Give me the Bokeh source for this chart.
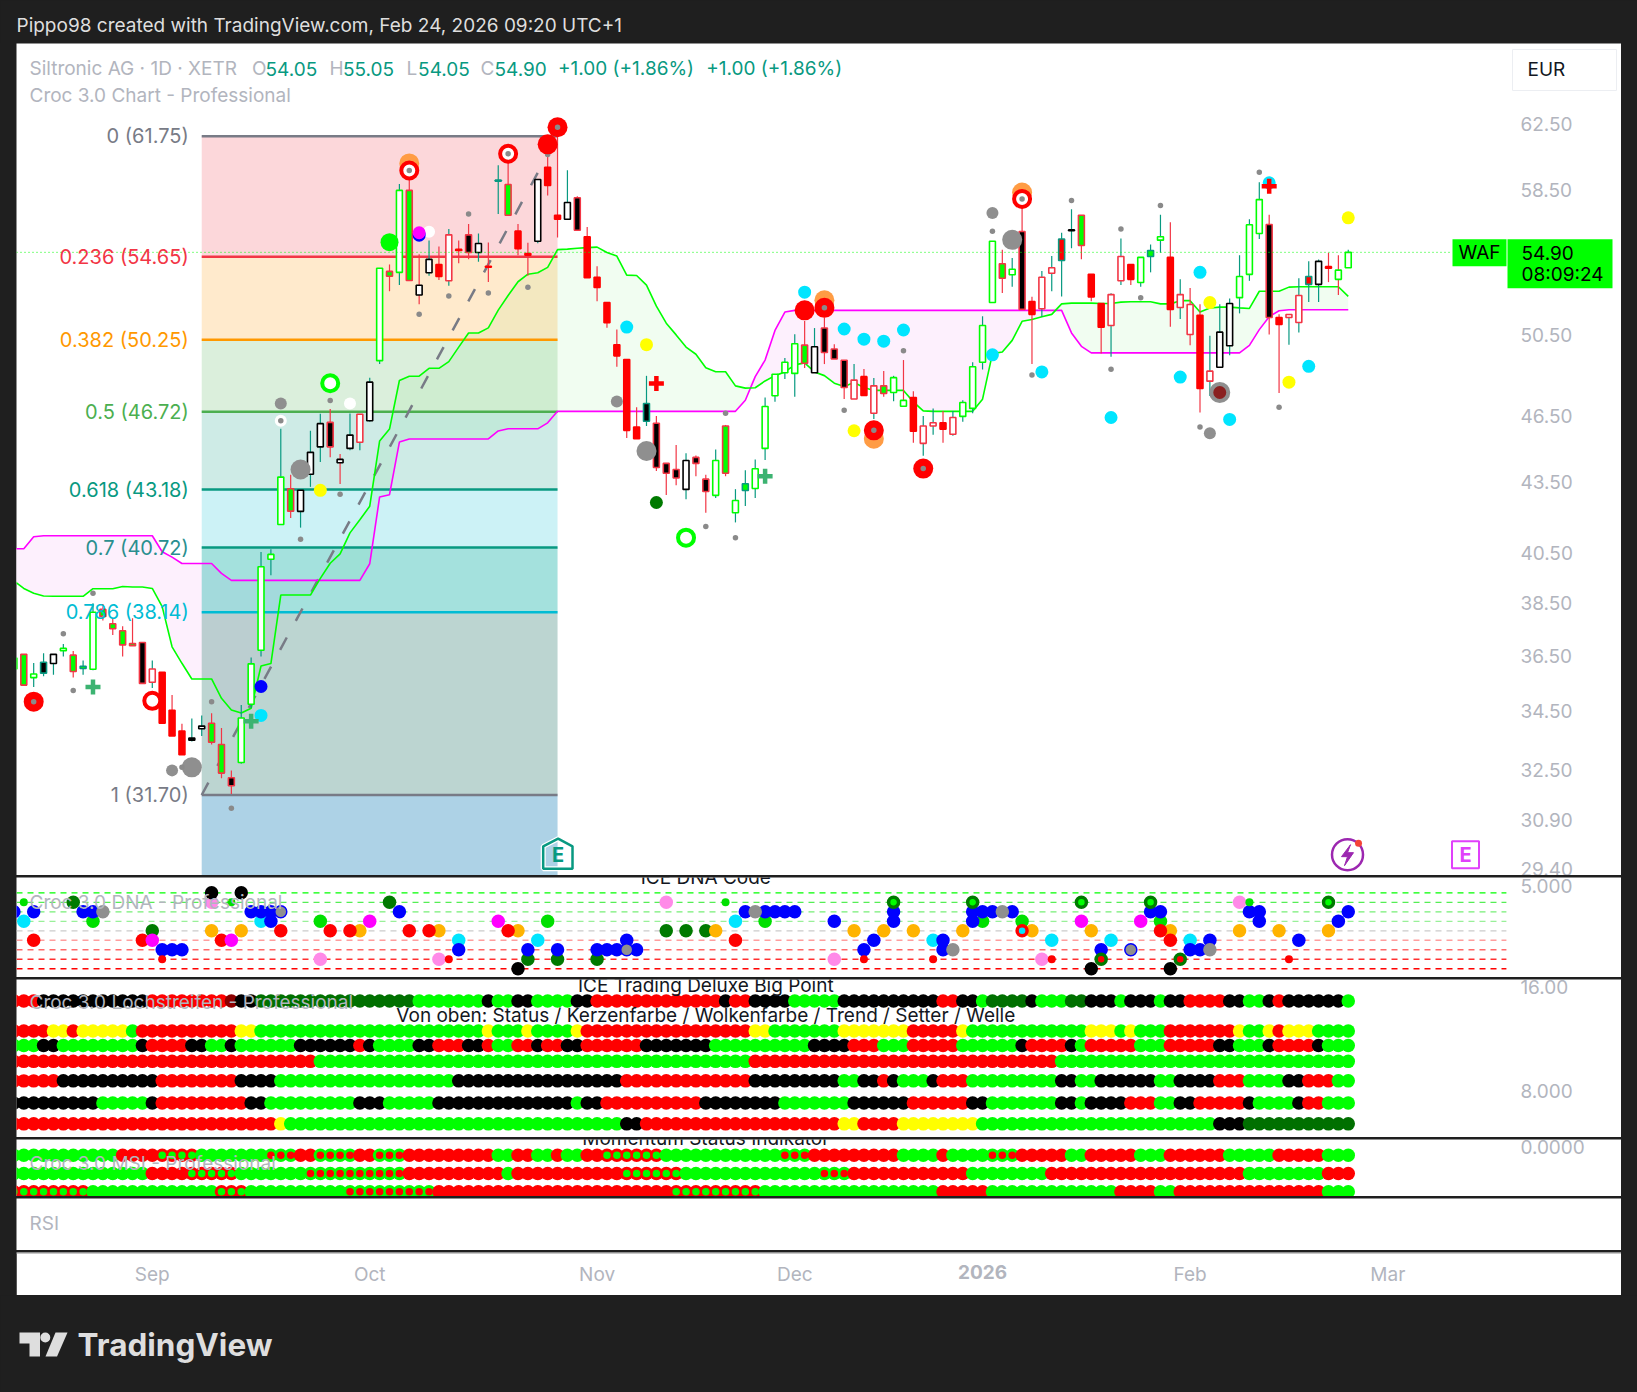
from bokeh.plotting import figure
from bokeh.layouts import column
from bokeh.models import Range1d, FixedTicker, PrintfTickFormatter, Label, LogAxis, LinearAxis
from bokeh.core.properties import value
from bokeh.embed import file_html
from bokeh.resources import INLINE
import numpy as np

# ---------- candle data (bar index starts at -1) ----------
bar_top = [36.41,36.55,35.83,36.26,36.55,36.77,36.52,36.11,38.14,38.25,
 37.70,37.43,36.95,36.99,36.01,35.89,34.54,33.82,33.58,33.99,
 34.09,33.36,32.26,34.27,36.20,39.94,40.44,43.73,43.22,43.15,
 44.84,46.16,46.22,44.52,45.63,46.60,48.14,54.02,53.85,58.45,
 58.45,53.10,54.51,54.23,55.88,55.07,55.88,55.39,54.13,59.06,
 58.80,56.09,54.83,59.10,59.83,57.00,57.74,58.02,55.77,53.53,
 52.18,50.00,49.26,46.00,47.11,46.18,44.34,44.07,44.47,44.61,
 43.64,44.47,46.05,42.71,43.44,44.10,46.97,48.53,49.12,50.05,
 49.98,49.90,50.85,49.78,49.22,48.24,48.41,47.96,47.96,48.36,
 47.26,47.40,46.05,46.20,46.20,46.45,47.16,48.90,50.98,55.52,
 54.27,53.97,56.07,52.23,53.53,54.05,55.65,56.16,57.00,53.69,
 52.13,52.60,54.67,54.23,54.62,55.00,55.77,54.62,52.60,52.08,
 51.51,48.68,50.64,52.13,53.57,56.45,57.91,56.47,51.40,51.55,
 52.55,53.57,54.40,54.11,53.92,54.90]
bar_bottom = [36.01,35.43,35.70,35.86,36.21,36.68,35.92,36.03,36.00,37.98,
 37.51,36.90,36.87,35.49,35.53,34.09,33.65,33.02,33.51,33.90,
 33.44,32.41,32.00,32.76,34.75,36.70,40.24,41.68,42.25,42.24,
 43.86,45.09,45.09,44.37,45.02,45.30,46.30,49.20,53.59,53.80,
 53.36,52.58,53.78,53.57,53.34,55.01,54.89,54.89,54.08,59.00,
 57.00,55.10,54.74,55.52,58.74,56.77,56.77,56.14,53.51,52.98,
 51.12,49.44,45.85,45.46,46.27,44.16,43.90,43.69,43.19,44.34,
 43.10,42.93,43.90,42.18,43.14,43.23,45.02,47.48,48.60,48.57,
 49.07,48.60,49.61,49.28,47.88,47.33,47.50,46.65,47.59,47.64,
 46.98,45.81,45.25,46.05,45.90,45.67,46.50,46.88,49.12,52.18,
 53.48,53.67,51.82,51.56,51.85,53.75,54.45,56.12,55.28,52.47,
 50.89,50.98,53.34,53.42,53.25,54.67,55.58,51.82,51.92,50.52,
 47.83,48.19,48.87,49.95,52.44,53.69,55.96,51.40,51.03,51.40,
 51.14,53.15,53.15,54.02,53.42,54.05]
highs = [36.41,36.55,36.23,36.59,36.55,36.93,36.67,36.32,38.49,38.46,
 37.91,37.60,37.91,36.99,36.32,35.89,35.08,34.07,34.25,34.36,
 34.43,33.92,32.50,34.72,36.43,40.54,40.65,45.92,43.83,43.15,
 45.83,46.62,46.85,44.76,46.64,46.60,48.36,54.02,54.23,58.83,
 59.66,54.79,55.56,55.23,56.21,55.56,56.50,55.96,55.45,59.96,
 60.26,56.50,55.43,59.10,60.66,62.31,59.66,58.10,56.33,54.13,
 52.18,50.77,49.26,46.93,48.45,46.52,44.34,45.17,44.80,44.70,
 43.83,44.97,46.10,43.20,44.03,44.52,47.40,48.53,49.33,50.53,
 51.21,50.85,51.40,50.02,49.22,49.03,48.79,48.34,48.69,48.45,
 49.23,47.70,46.52,46.88,46.75,46.75,47.27,49.12,51.46,55.52,
 55.05,54.58,57.95,52.49,53.87,54.69,56.00,57.35,57.00,53.69,
 52.13,52.67,55.67,54.23,54.62,55.34,57.03,56.60,53.43,52.96,
 52.09,50.46,52.09,52.39,54.74,56.77,58.94,57.03,51.56,51.55,
 53.48,54.40,54.50,54.87,54.74,55.05]
lows = [36.01,35.43,35.36,35.75,35.80,36.47,35.70,35.80,35.97,37.82,
 37.27,36.47,36.87,35.49,35.33,34.09,33.65,33.02,33.46,33.65,
 33.36,32.24,31.73,32.72,34.62,36.47,39.60,41.67,41.96,41.55,
 43.30,44.40,44.62,43.43,44.94,44.94,46.25,49.03,52.78,53.11,
 53.36,52.09,53.62,53.39,53.08,54.29,54.52,54.38,53.27,57.07,
 57.00,54.74,53.62,55.41,58.15,55.73,56.77,56.14,53.51,52.25,
 50.87,48.90,45.50,45.46,46.05,44.00,42.94,43.37,42.76,43.77,
 42.18,42.82,43.77,41.77,42.47,42.82,44.49,47.19,48.30,47.43,
 48.84,48.60,49.03,49.28,47.33,47.33,47.50,46.38,47.43,47.22,
 46.98,45.28,44.68,45.65,45.28,45.60,46.25,46.65,48.76,52.18,
 52.68,53.02,51.82,49.03,51.44,52.78,52.50,55.13,54.52,52.25,
 49.56,49.39,53.11,53.11,53.02,53.80,54.87,50.92,51.32,49.97,
 46.68,47.47,48.87,49.47,51.61,53.34,55.65,50.52,47.62,50.00,
 50.62,52.21,52.21,53.27,52.58,54.05]
# fill / edge / wick colour letters per bar
fill_codes = [
 "g","g","w","k","w","w","g","g","w","g","g","g","g","k","w","r","r","r","k","w",
 "g","g","k","w","w","w","w","w","g","w","w","w","k","w","w","w","w","w","g","w",
 "g","w","w","r","w","r","k","w","r","t","g","r","r","w","r","r","w","k","r","r",
 "r","r","r","r","k","k","k","k","w","k","k","w","g","w","g","w","w","w","w","w",
 "g","w","k","k","k","w","r","w","g","w","w","r","w","w","r","w","w","w","w","w",
 "g","w","k","r","w","w","r","k","g","r","r","w","w","r","w","g","w","r","w","w",
 "r","w","w","w","w","w","w","k","r","w","w","r","w","r","w","w"]
edge_codes = [
 "g","r","g","t","k","g","r","t","g","r","r","r","r","r","r","r","r","r","k","k",
 "r","r","r","g","g","g","g","g","r","k","k","k","r","k","k","r","k","g","r","g",
 "r","k","k","r","r","r","r","k","r","t","r","r","r","k","r","r","k","r","r","r",
 "r","r","r","r","t","r","r","r","k","r","r","g","r","g","t","g","g","g","g","g",
 "r","k","r","r","r","r","r","r","r","g","g","r","r","r","r","r","g","g","g","g",
 "r","g","r","r","r","r","t","k","r","r","r","r","r","r","g","t","g","r","r","r",
 "r","r","k","k","g","g","g","r","r","r","r","t","k","r","g","g"]
wick_codes = [
 "t","r","t","t","t","t","r","t","t","r","r","r","r","r","t","r","r","r","t","t",
 "r","r","r","t","t","t","t","t","r","t","t","t","r","r","t","t","t","t","r","t",
 "r","r","t","r","t","r","r","t","r","t","r","r","r","t","r","r","t","r","r","r",
 "r","r","r","r","t","r","r","r","t","r","r","t","r","t","t","t","t","t","t","t",
 "r","t","r","r","r","t","r","t","r","t","r","r","t","t","r","t","t","t","t","t",
 "r","t","r","r","t","t","t","t","r","r","r","t","t","r","t","t","t","r","t","r",
 "r","t","t","t","t","t","t","r","r","t","t","t","t","r","r","t"]

# ---------- cloud lines ----------
cloud_green = [39.37,39.07,38.88,38.77,38.76,38.76,38.76,38.76,39.06,39.06,39.06,39.15,39.13,39.13,39.07,38.36,36.83,36.22,35.65,35.65,
 35.65,34.96,34.55,34.44,34.61,36.12,36.21,38.81,38.81,38.81,38.81,39.47,40.08,40.46,41.33,41.88,42.46,45.36,45.91,48.22,
 48.43,48.43,48.82,48.82,49.15,49.88,50.60,50.60,50.86,51.78,52.55,53.29,53.70,53.78,54.07,55.05,55.08,55.13,55.16,55.19,
 54.89,54.69,53.65,53.63,53.11,51.99,51.10,50.50,49.88,49.52,48.85,48.65,48.65,47.96,47.85,47.87,48.20,48.46,48.64,48.99,
 49.09,48.64,48.46,48.09,47.93,48.12,47.88,47.74,47.74,47.74,47.74,47.19,46.76,46.74,46.74,46.74,46.74,46.74,47.32,49.55,
 49.63,50.22,51.20,51.29,51.44,51.56,52.11,52.15,52.15,52.15,52.13,52.13,52.20,52.22,52.22,52.22,52.11,52.11,52.28,52.28,
 51.68,51.89,51.94,51.94,51.90,51.87,52.78,52.78,52.78,53.00,53.02,53.02,53.02,53.02,53.02,52.51]
cloud_magenta = [40.67,40.67,41.17,41.21,41.21,41.21,41.21,41.21,41.21,41.21,41.21,41.21,41.21,41.21,41.21,40.55,40.33,40.07,40.07,40.07,
 40.07,39.67,39.39,39.39,39.39,39.39,39.39,39.39,39.39,39.39,39.39,39.39,39.39,39.39,39.39,39.39,40.06,42.86,42.96,45.31,
 45.45,45.45,45.45,45.45,45.45,45.45,45.45,45.45,45.45,45.82,45.92,45.92,45.92,45.92,46.20,46.74,46.74,46.74,46.74,46.74,
 46.74,46.74,46.74,46.74,46.74,46.74,46.74,46.74,46.74,46.74,46.74,46.74,46.74,46.74,47.27,48.41,49.23,50.73,51.68,51.77,
 51.77,51.77,51.77,51.77,51.77,51.77,51.77,51.77,51.77,51.77,51.77,51.77,51.77,51.77,51.77,51.77,51.77,51.77,51.77,51.77,
 51.77,51.77,51.77,51.77,51.77,51.77,51.77,50.60,49.92,49.59,49.59,49.59,49.59,49.59,49.59,49.59,49.59,49.59,49.59,49.59,
 49.59,49.59,49.59,49.59,49.59,49.97,50.77,51.44,51.75,51.80,51.80,51.80,51.80,51.80,51.80,51.80]

# ---------- Fibonacci ----------
fib_prices = [61.75, 54.65, 50.25, 46.72, 43.18, 40.72, 38.14, 31.70]
fib_labels = ["0 (61.75)", "0.236 (54.65)", "0.382 (50.25)", "0.5 (46.72)", "0.618 (43.18)", "0.7 (40.72)", "0.786 (38.14)", "1 (31.70)"]
fib_start_bar, fib_end_bar = 18, 54

# ---------- chart markers: (bar, price) ----------
gray_dots = [(4,37.32),(5,35.24),(7,38.88),(16,32.6),(19,34.84),(21,31.28),(32,42.98),(28,41.06),(31,47.26),(40,51.56),(43,52.53),(45,57.07),(47,52.68),(51,53.0),(53,60.62),(83,46.79),(89,49.7),(69,41.6),(71,46.65),(72,41.13),(98,56.09),(102,48.49),(106,57.85),(111,56.21),(115,57.57),(113,52.44),(110,48.77),(119,46.0),(125,59.54),(127,46.93)]
gray_medium = [(15,32.5),(26,47.11),(60,47.21),(98,57.13),(120,45.72)]
gray_large = [(17,32.6),(28,44.07),(63,44.9),(100,55.6)]
white_marks = [(26,46.3),(33,47.11),(41,56.06)]
cyan_marks = [(24,34.36),(61,50.9),(79,52.73),(83,50.8),(85,50.28),(87,50.18),(89,50.75),(98,49.49),(103,48.64),(110,46.45),(117,48.39),(119,53.8),(122,46.36),(126,58.9),(130,48.92)]
yellow_marks = [(30,43.15),(63,50.0),(84,45.83),(120,52.18),(128,48.14),(134,56.85)]
blue_marks = [(24,35.38),(40,55.86)]
magenta_marks = [(40,56.0)]
darkgreen_marks = [(64,42.62)]
green_big = [(37,55.47)]
orange_big = [(39,60.07),(81,52.3),(86,45.46),(101,58.32)]
red_big = [(1,34.84),(53,61.24),(54,62.31),(79,51.77),(81,51.9),(86,45.85),(91,44.11)]
red_rings = [(13,34.87),(39,59.64),(49,60.66),(101,57.95)]
green_rings = [(31,48.09),(67,41.13)]
center_dots = [(1,34.84),(26,46.3),(39,59.64),(49,60.66),(54,62.31),(81,51.9),(86,45.85),(91,44.11),(101,57.95)]
green_plus = [(7,35.36),(23,34.16),(75,43.77)]
red_plus = [(64,48.07),(126,58.7)]
brown_marks = [(121,47.64)]

price_ticks = [62.5,58.5,50.5,46.5,43.5,40.5,38.5,36.5,34.5,32.5,30.9,29.4]

# ---------- DNA pane: (bar, level) ----------
dna_levels = [4,3,2,1,0,-1,-2,-3,-4]
dna_blue = [(-1,2),(1,2),(6,2),(7,2),(14,-2),(15,-2),(16,-2),(23,2),(24,2),(25,2),(25,1),(38,2),(44,-2),(51,-2),(54,-2),(58,-2),(59,-2),(60,-2),(61,-1),(62,-2),(73,2),(75,2),(76,2),(77,2),(78,2),(82,1),(85,-2),(86,-1),(88,2),(88,1),(93,-1),(93,-2),(96,2),(96,1),(97,2),(98,2),(100,2),(109,-2),(114,2),(115,2),(118,-2),(119,-2),(120,-1),(124,2),(125,2),(125,1),(129,-1),(133,1),(134,2)]
dna_cyan = [(0,1),(24,1),(44,-1),(52,-1),(72,1),(92,-1),(104,-1),(110,-1),(118,-1)]
dna_red = [(1,-1),(12,-1),(20,-1),(26,0),(31,0),(33,0),(39,0),(41,0),(49,0),(72,-1),(115,0),(116,-1)]
dna_orange = [(19,0),(22,0),(34,0),(42,0),(50,0),(70,0),(84,0),(87,0),(90,0),(95,0),(102,0),(108,0),(116,0),(123,0),(127,0),(132,0)]
dna_magenta = [(13,-1),(21,-1),(35,1),(48,1),(107,1),(113,1)]
dna_pink = [(19,3),(30,-3),(42,-3),(65,3),(82,-3),(103,-3),(123,3)]
dna_darkgreen = [(5,3),(13,0),(37,3),(51,-3),(54,-3),(58,-3),(65,0),(67,0),(69,0)]
dna_green = [(7,1),(30,1),(53,1),(75,1),(97,1),(101,1),(115,1)]
dna_black = [(19,4),(22,4),(50,-4),(108,-4),(116,-4)]
dna_gray = [(8,2),(74,2),(94,-2),(99,2),(120,-2)]
dna_gray_blue = [(26,2),(61,-2),(112,-2)]
dna_small_green = [(0,3),(21,3),(71,3),(124,3)]
dna_small_red = [(14,-3),(43,-3),(85,-3),(92,-3),(104,-3),(128,-3)]
dna_rings = [(88,3),(96,3),(107,3),(114,3),(132,3)]
dna_rings_red = [(109,-3),(117,-3)]
dna_red_ring_cyan = [(101,0)]

# ---------- status rows: colour runs per bar (letter + bar count) ----------
trade_levels = [14.0, 11.6, 10.6, 9.6, 8.5, 7.4, 6.5]
trade_row0 = "r3 k11 r8 D1 k2 d16 g7 k1 g2 k2 g4 k2 r13 k1 r2 k4 g5 k10 r2 k2 g1 d4 k1 g3 d2 k3 g1 k3 g1 k2 r4 k2 g2 k1 r1 k6 g1"
trade_row1 = "r4 y2 r1 y5 g1 r10 y2 g23 y1 g3 y1 g4 y1 r17 y2 g7 y7 r5 y1 g12 y3 g1 y1 g3 r7 y1 g2 y1 r1 y3 g4"
trade_row2 = "g3 k2 g8 k1 r4 k2 g2 k1 g6 k6 r1 k1 g4 k2 r3 k2 r1 g2 r2 k1 r2 k2 r6 k7 g10 k4 r3 g3 r5 g6 k1 r4 k1 g1 r5 g3 r5 k2 g3 k1 r4 k1 g3"
trade_row3 = "r31 g44 r31 g30"
trade_row4 = "r5 k10 r8 k4 g18 k17 r13 k9 g2 k2 r1 k1 g3 k1 r3 g9 k2 g2 k6 g2 k4 r3 g4 k2 r3 g2"
trade_row5 = "k9 g5 k1 r9 k2 g9 k3 g5 k14 g1 k2 r10 k8 g7 k6 r6 k2 g7 k2 g1 k4 r3 g2 k2 r5 k1 g4 k1 r2 g3"
trade_row6 = "r27 y1 g34 k2 r20 y2 r4 y8 g24 k3 d11"
msi_levels = [-1, -3, -5]
msi_row0 = "g11 r4 a4 g7 b3 r2 b4 r2 b3 r9 g2 r2 g2 r1 g2 r2 a6 g12 b3 r9 g4 r1 g4 b3 r5 g2 r5 g3 r6 g5 r5 g3"
msi_row1 = "g14 r4 a5 g7 b10 r10 g1 r11 a6 g14 b3 r12 g8 r20 g8 r3"
msi_row2 = "a8 g13 a3 g10 b9 r24 a9 g18 r5 g13 r4 g2 r15 g3"

month_ticks = [13, 35, 58, 78, 118, 138]
month_labels = ["Sep", "Oct", "Nov", "Dec", "Feb", "Mar"]
year_tick = 97
year_label = "2026"

# ---------- styling ----------
FONT = "Inter"
DARK = "#1f1f1f"
AXIS_TXT = "#b2b5be"
TEAL = "#089981"
RED = "#ff0000"
LIME = "#00ff00"
WICK_RED = "#f23645"
bars = np.arange(len(bar_top)) - 1
XL, XR = -0.739, 150.0
FULL_W = 1605          # white panes run over the price scale
XEND = XL + FULL_W / 9.884
FS = "19px"

def px_x(px):
    return (px - 23.3) / 9.884
def px_p(py):
    return 61.75 * np.exp(-(py - 135.7) / 989.2)
def unzip(pts):
    return [a for a, _ in pts], [b for _, b in pts]
def expand(spec):
    out = []
    for tok in spec.split():
        out += [tok[0]] * int(tok[1:])
    return out

def style_axis(ax):
    ax.axis_line_color = None
    ax.major_tick_line_color = None
    ax.minor_tick_line_color = None
    ax.major_tick_out = 0
    ax.major_tick_in = 0
    ax.minor_tick_out = 0
    ax.minor_tick_in = 0
    ax.major_label_text_color = AXIS_TXT
    ax.major_label_text_font = FONT
    ax.major_label_text_font_size = FS
    ax.major_label_standoff = 14

def pane(h, ymin, ymax, ytype="linear", top=2):
    p = figure(width=None, height=None, frame_width=FULL_W, frame_height=h, x_range=Range1d(XL, XEND),
               y_range=Range1d(ymin, ymax), y_axis_type=ytype, x_axis_location=None, y_axis_location=None,
               toolbar_location=None, output_backend="svg", min_border=0, border_fill_color=DARK,
               background_fill_color="white", outline_line_color=None, margin=(top, 0, 0, 16))
    p.grid.visible = False
    return p

def price_scale(p, ticks, ytype="linear", **kw):
    cls = LogAxis if ytype == "log" else LinearAxis
    ax = cls(fixed_location=XR, ticker=FixedTicker(ticks=ticks), **kw)
    style_axis(ax)
    p.add_layout(ax, "right")
    return ax

def put(p, text, x, y, pane_top, pane_h, color=AXIS_TXT, size=FS, style="normal", align="left", left=16, alpha=1.0):
    p.add_layout(Label(x=x - left, y=pane_h - (y - pane_top), x_units="screen", y_units="screen", text=text,
                       text_color=color, text_font=FONT, text_font_size=size, text_font_style=style,
                       text_align=align, text_baseline="middle", text_alpha=alpha))

def dots(p, pts, size, color, line=None, lw=1, marker="circle"):
    if not pts:
        return
    xs, ys = unzip(pts)
    p.scatter(xs, ys, marker=marker, size=size, fill_color=color, line_color=line, line_width=lw)

# ---------- header ----------
hdr = figure(width=1637, height=43, x_range=Range1d(0, 1637), y_range=Range1d(43, 0), x_axis_location=None,
             y_axis_location=None, toolbar_location=None, output_backend="svg", min_border=0,
             border_fill_color=DARK, background_fill_color=DARK, outline_line_color=None, margin=(0, 0, 0, 0))
hdr.grid.visible = False
put(hdr, "Pippo98 created with TradingView.com, Feb 24, 2026 09:20 UTC+1", 16, 25, 0, 43, color="#dedede", left=0)

# ---------- main pane ----------
MAIN_H = 832
main = pane(MAIN_H, 29.22, 67.82, ytype="log", top=0)
price_scale(main, price_ticks, ytype="log", formatter=PrintfTickFormatter(format="%.2f"))

g = np.array(cloud_green); m = np.array(cloud_magenta)
main.varea(bars, y1=m, y2=np.maximum(g, m), fill_color="#f1fdf1")
main.varea(bars, y1=g, y2=np.maximum(g, m), fill_color="#fdf0fd")

zone_colors = ["#f23645", "#ff9800", "#4caf50", "#089981", "#00bcd4", "#49c3bb", "#79aba3", "#5ba5cd"]
zone_alpha = [.2, .2, .2, .2, .2, .5, .5, .5]
zone_tops = fib_prices
zone_bottoms = fib_prices[1:] + [29.22]
main.quad(left=fib_start_bar, right=fib_end_bar, top=zone_tops, bottom=zone_bottoms, fill_color=zone_colors,
          fill_alpha=zone_alpha, line_color=None)
fib_colors = ["#787b86", "#f23645", "#ff9800", "#4caf50", "#089981", "#089981", "#00bcd4", "#787b86"]
main.segment(x0=[fib_start_bar] * 8, x1=[fib_end_bar] * 8, y0=fib_prices, y1=fib_prices, line_color=fib_colors, line_width=2.5)
main.line([fib_start_bar, fib_end_bar], [fib_prices[-1], fib_prices[0]], line_color="#787b86", line_width=2.5, line_dash="14 19")

main.line(bars, m, line_color="#ff00ff", line_width=1.6)
main.line(bars, g, line_color=LIME, line_width=1.6)

palette = {"g": LIME, "w": "#ffffff", "k": "#000000", "r": RED, "t": TEAL}
edge_colors = [WICK_RED if (e == "r" and f != "r") else palette[e] for f, e in zip(fill_codes, edge_codes)]
main.segment(bars, lows, bars, highs, line_color=[(WICK_RED if c == "r" else TEAL) for c in wick_codes], line_width=1.2)
main.vbar(bars, width=0.6, top=bar_top, bottom=bar_bottom, fill_color=[palette[c] for c in fill_codes],
          line_color=edge_colors, line_width=1.6)

main.segment([XL], [54.90], [px_x(1452)], [54.90], line_color=LIME, line_dash="1 3", line_width=1)

dots(main, gray_medium, 12, "#8f8f8f")
dots(main, gray_large, 20, "#8f8f8f")
dots(main, gray_dots, 5.5, "#8a8a8a")
dots(main, orange_big, 20, "#ff9c44")
dots(main, white_marks, 12, "#ffffff")
dots(main, cyan_marks, 13, "#00e5ff")
dots(main, yellow_marks, 13, "#ffff00")
dots(main, blue_marks, 13, "#0000ff")
dots(main, magenta_marks, 13, "#ff00ff")
dots(main, darkgreen_marks, 13, "#007a00")
dots(main, green_big, 18, LIME)
dots(main, red_big, 20, RED)
dots(main, red_rings, 16, "#ffffff", line=RED, lw=4)
dots(main, green_rings, 16, "#ffffff", line=LIME, lw=4)
dots(main, center_dots, 5.5, "#8a8a8a")
dots(main, brown_marks, 17, "#8a2020", line="#8f8f8f", lw=4)
dots(main, green_plus, 15, "#3cb371", line="#3cb371", lw=4.5, marker="cross")
dots(main, red_plus, 15, RED, line=RED, lw=4.5, marker="cross")

main.text(x=[fib_start_bar] * 8, y=fib_prices, text=fib_labels, text_align="right", text_baseline="middle", x_offset=-13,
          text_color=["#787b86", "#f23645", "#ff9800", "#4caf50", "#089981", "#2a8f8f", "#00bcd4", "#787b86"],
          text_font=value(FONT), text_font_size="20px")

# event icons
hx = [542.7, 557.6, 572, 572, 542.7]; hy = [846.7, 839, 846.7, 869, 869]
main.patch([px_x(a) for a in hx], [px_p(b) for b in hy], fill_color=None, line_color="#ffffff", line_width=5)
main.patch([px_x(a) for a in hx], [px_p(b) for b in hy], fill_color=None, line_color=TEAL, line_width=2.5)
main.text([px_x(557.6)], [px_p(855.5)], text=["E"], text_align="center", text_baseline="middle", text_color=[TEAL],
          text_font=value(FONT), text_font_size="20px", text_font_style="bold")
main.scatter([px_x(1347)], [px_p(855)], marker="circle", size=31, fill_color="#ffffff", line_color="#9c27b0", line_width=2.5)
bx = [1350, 1341, 1347, 1344, 1353, 1347]; by = [845, 857, 857, 866, 853, 853]
main.patch([px_x(a) for a in bx], [px_p(b) for b in by], fill_color="#9c27b0", line_color="#9c27b0")
main.scatter([px_x(1358)], [px_p(843.5)], marker="circle", size=7, fill_color="#f44336", line_color=None)
main.scatter([px_x(1465)], [px_p(855)], marker="square", size=27, fill_color="#ffffff", line_color="#e040fb", line_width=2)
main.text([px_x(1465)], [px_p(855.5)], text=["E"], text_align="center", text_baseline="middle", text_color=["#e040fb"],
          text_font=value(FONT), text_font_size="20px", text_font_style="bold")

# legend
MT = 43
put(main, "Siltronic AG · 1D · XETR", 29, 68, MT, MAIN_H)
for txt, xp, col in [("O", 251.6, AXIS_TXT), ("54.05", 265, TEAL), ("H", 329, AXIS_TXT), ("55.05", 342.5, TEAL),
                     ("L", 406, AXIS_TXT), ("54.05", 417.6, TEAL), ("C", 480, AXIS_TXT), ("54.90", 494, TEAL),
                     ("+1.00 (+1.86%)", 557.5, TEAL), ("+1.00 (+1.86%)", 705.7, TEAL)]:
    put(main, txt, xp, 68, MT, MAIN_H, color=col)
put(main, "Croc 3.0 Chart - Professional", 29, 95, MT, MAIN_H)

# price tags and currency box
def box(x0, x1, y0, y1, fill, line=None):
    main.quad(left=[px_x(x0)], right=[px_x(x1)], top=[px_p(y0)], bottom=[px_p(y1)], fill_color=fill, line_color=line)
box(1452, 1506, 239, 266, LIME)
box(1507, 1612, 239, 288, LIME)
box(1512, 1616, 49, 90, "#ffffff", "#eceef2")
put(main, "EUR", 1527, 69, MT, MAIN_H, color="#131722")
put(main, "WAF", 1458, 252, MT, MAIN_H, color="#000000")
put(main, "54.90", 1521, 252, MT, MAIN_H, color="#000000")
put(main, "08:09:24", 1521, 274, MT, MAIN_H, color="#000000")

# ---------- DNA pane ----------
DNA_T, DNA_H = 877, 100
dna = pane(DNA_H, -4.92, 5.61)
price_scale(dna, [5], major_label_overrides={5: "5.000"})
lvl_colors = [LIME, "#55ee55", "#77ee77", "#99f099", "#cccccc", "#ff9e9e", "#ff6a6a", "#ff3030", RED]
dna.segment([XL] * 9, dna_levels, [XR] * 9, dna_levels, line_color=lvl_colors, line_width=1.3, line_dash="6 5")
D = 13.5
dots(dna, dna_darkgreen, D, "#007a00")
dots(dna, dna_green, D, "#00e000")
dots(dna, dna_orange, D, "#ffb300")
dots(dna, dna_red, D, RED)
dots(dna, dna_magenta, D, "#ff00ff")
dots(dna, dna_pink, D, "#ff8ae8")
dots(dna, dna_cyan, D, "#00e5ff")
dots(dna, dna_black, D, "#000000")
dots(dna, dna_blue, D, "#0000ff")
dots(dna, dna_gray, D, "#8f8f8f")
dots(dna, dna_gray_blue, 12, "#8f8f8f", line="#0000ff", lw=1.5)
dots(dna, dna_small_green, 8, "#00e000")
dots(dna, dna_small_red, 8, RED)
dots(dna, dna_rings, 10, LIME, line="#007a00", lw=3.5)
dots(dna, dna_rings_red, 10, RED, line="#007a00", lw=3.5)
dots(dna, dna_red_ring_cyan, 10, "#00e5ff", line=RED, lw=3.5)
dna.text([69], [5.6], text=["ICE DNA Code"], text_align="center", text_baseline="middle", text_color=["#131722"],
         text_font=value(FONT), text_font_size=FS)
put(dna, "Croc 3.0 DNA - Professional", 29, 902, DNA_T, DNA_H)

# ---------- trading pane ----------
TR_T, TR_H = 979, 158
trade = pane(TR_H, 5.97, 16, ytype="log")
price_scale(trade, [16, 8], ytype="log", major_label_overrides={16: "16.00", 8: "8.000"})
row_colors = {"r": RED, "g": LIME, "k": "#000000", "y": "#ffff00", "d": "#007000", "D": "#8b0000"}
for lvl, spec in zip(trade_levels, [trade_row0, trade_row1, trade_row2, trade_row3, trade_row4, trade_row5, trade_row6]):
    codes = expand(spec)
    trade.scatter(bars[:len(codes)], [lvl] * len(codes), marker="circle", size=13.5,
                  fill_color=[row_colors[c] for c in codes], line_color=None)
trade.text([69, 69], [15.4, 12.8], text=["ICE Trading Deluxe Big Point", "Von oben: Status / Kerzenfarbe / Wolkenfarbe / Trend / Setter / Welle"],
           text_align="center", text_baseline="middle", text_color=["#131722", "#131722"], text_font=value(FONT), text_font_size=FS)
put(trade, "Croc 3.0 Lochstreifen - Professional", 29, 1002, TR_T, TR_H)

# ---------- MSI pane ----------
MS_T, MS_H = 1139, 57
msi = pane(MS_H, -5.53, 0.74)
price_scale(msi, [0], formatter=PrintfTickFormatter(format="%.4f"))
for lvl, spec in zip(msi_levels, [msi_row0, msi_row1, msi_row2]):
    codes = expand(spec)
    outer = [RED if c in "ra" else LIME for c in codes]
    msi.scatter(bars[:len(codes)], [lvl] * len(codes), marker="circle", size=13.5, fill_color=outer, line_color=None)
    inner_x = [b for b, c in zip(bars, codes) if c in "ab"]
    inner_c = [LIME if c == "a" else RED for c in codes if c in "ab"]
    msi.scatter(inner_x, [lvl] * len(inner_x), marker="circle", size=7.5, fill_color=inner_c, line_color=None)
msi.text([69], [0.85], text=["Momentum Status Indikator"], text_align="center", text_baseline="middle", text_color=["#131722"],
         text_font=value(FONT), text_font_size=FS)
put(msi, "Croc 3.0 MSI - Professional", 29, 1163, MS_T, MS_H)

# ---------- RSI pane ----------
RS_T, RS_H = 1198, 52
rsi = pane(RS_H, 0, 100)
put(rsi, "RSI", 29, 1223, RS_T, RS_H)

# ---------- time axis ----------
tm = figure(width=None, height=43, frame_width=FULL_W, x_range=Range1d(XL, XEND), y_range=Range1d(0, 1), y_axis_location=None,
            toolbar_location=None, output_backend="svg", min_border_left=0, min_border_right=0, min_border_top=0,
            min_border_bottom=42, border_fill_color="white", background_fill_color="white", outline_line_color=None,
            margin=(2, 0, 0, 16))
tm.grid.visible = False
ax = tm.xaxis[0]
style_axis(ax)
ax.ticker = FixedTicker(ticks=month_ticks)
ax.major_label_overrides = dict(zip(month_ticks, month_labels))
ax.major_label_standoff = 9
year_axis = LinearAxis(ticker=FixedTicker(ticks=[year_tick]), major_label_overrides={year_tick: year_label})
style_axis(year_axis)
year_axis.major_label_text_font_style = "bold"
year_axis.major_label_standoff = -24
tm.add_layout(year_axis, "below")

# ---------- footer ----------
ft = figure(width=1637, height=96, x_range=Range1d(0, 1637), y_range=Range1d(1391, 1295), x_axis_location=None,
            y_axis_location=None, toolbar_location=None, output_backend="svg", min_border=0,
            border_fill_color=DARK, background_fill_color=DARK, outline_line_color=None, margin=(0, 0, 0, 0))
ft.grid.visible = False
ft.patch([19, 39.5, 39.5, 29, 29, 19], [1332, 1332, 1356, 1356, 1343, 1343], fill_color="#dedede", line_color=None)
ft.scatter([44.8], [1337], marker="circle", size=10, fill_color="#dedede", line_color=None)
ft.patch([55, 67, 56.5, 45], [1332, 1332, 1356, 1356], fill_color="#dedede", line_color=None)
put(ft, "TradingView", 77, 1344, 1295, 96, color="#dedede", size="31.5px", style="bold", left=0)

page = column(hdr, main, dna, trade, msi, rsi, tm, ft, spacing=0)
html = file_html(page, INLINE, title="Siltronic AG")
html = html.replace("</head>", "<style>html,body{background:#1f1f1f;margin:0;overflow:hidden;}</style></head>", 1)
open("out.html", "w").write(html)
